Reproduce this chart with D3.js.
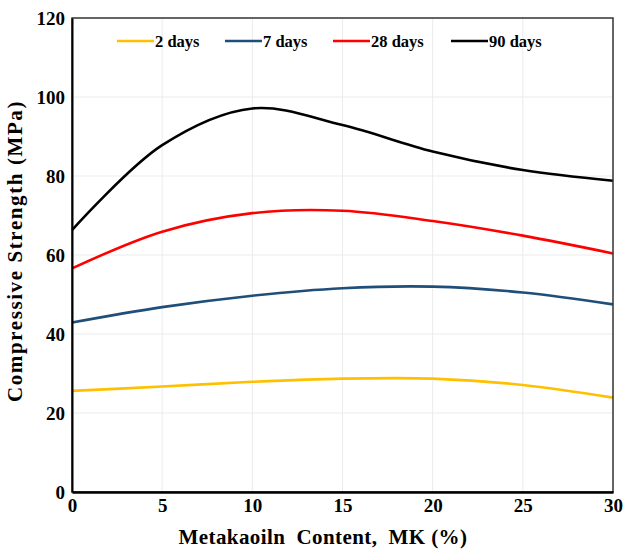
<!DOCTYPE html>
<html>
<head>
<meta charset="utf-8">
<script src="https://cdn.jsdelivr.net/npm/d3@7"></script>
<style>
  body { margin: 0; background: #fff; }
  svg text { font-family: "Liberation Serif", "DejaVu Serif", serif !important; font-weight: bold; fill: #000; }
  .grid line { stroke: #ebebeb; stroke-width: 1px; }
  .series { fill: none; stroke-width: 2.6px; }
</style>
</head>
<body>
<svg id="chart" width="624" height="549"></svg>
<script>
// MK content (%)
const mkContent = [0, 5, 10, 15, 20, 25, 30];
const days2 = [25.6, 26.7, 27.9, 28.7, 28.7, 27.1, 23.9];
const days7 = [42.9, 46.8, 49.7, 51.6, 52.0, 50.5, 47.5];
const days28 = [56.6, 65.9, 70.6, 71.2, 68.6, 64.9, 60.4];
const days90 = [66.3, 87.8, 97.1, 92.9, 86.2, 81.5, 78.8];

const seriesNames = ["2 days", "7 days", "28 days", "90 days"];
const seriesColors = ["#ffc000", "#1f4e79", "#ff0000", "#000000"];
const xTicks = [0, 5, 10, 15, 20, 25, 30];
const yTicks = [0, 20, 40, 60, 80, 100, 120];

const allSeries = [days2, days7, days28, days90];

const margin = {left: 72, right: 11, top: 18, bottom: 57};
const width = 624, height = 549;

const svg = d3.select("#chart");

const x = d3.scaleLinear().domain([0, 30]).range([margin.left, width - margin.right]);
const y = d3.scaleLinear().domain([0, 120]).range([height - margin.bottom, margin.top]);

// gridlines
const grid = svg.append("g").attr("class", "grid");
grid.selectAll(".gx")
  .data(xTicks.slice(1, -1))
  .join("line")
    .attr("x1", d => x(d)).attr("x2", d => x(d))
    .attr("y1", y(0)).attr("y2", y(120));
grid.selectAll(".gy")
  .data(yTicks.slice(1, -1))
  .join("line")
    .attr("x1", x(0)).attr("x2", x(30))
    .attr("y1", d => y(d)).attr("y2", d => y(d));

// lines
const line = d3.line()
  .x(d => x(d[0]))
  .y(d => y(d[1]))
  .curve(d3.curveCatmullRom.alpha(0.5));

svg.append("g")
  .selectAll("path")
  .data(allSeries)
  .join("path")
    .attr("class", "series")
    .attr("stroke", (d, i) => seriesColors[i])
    .attr("d", d => line(d.map((v, i) => [mkContent[i], v])));

// frame
svg.append("rect")
  .attr("x", x(0)).attr("y", y(120))
  .attr("width", x(30) - x(0)).attr("height", y(0) - y(120))
  .attr("fill", "none").attr("stroke", "#333").attr("stroke-width", 1.5);

// axes
const xAxis = d3.axisBottom(x).tickValues(xTicks).tickSize(0).tickPadding(7);
const gx = svg.append("g").attr("transform", `translate(0,${y(0)})`).call(xAxis);
gx.attr("font-family", null);
gx.select(".domain").attr("stroke", "#000").attr("stroke-width", 2.5);
gx.selectAll("text").attr("font-size", 19);

const yAxis = d3.axisLeft(y).tickValues(yTicks).tickSize(0).tickPadding(7);
const gy = svg.append("g").attr("transform", `translate(${x(0)},0)`).call(yAxis);
gy.attr("font-family", null);
gy.select(".domain").attr("stroke", "#000").attr("stroke-width", 2);
gy.selectAll("text").attr("font-size", 19);

// axis titles
svg.append("text")
  .attr("x", 323).attr("y", 544)
  .attr("text-anchor", "middle")
  .attr("font-size", 21)
  .attr("letter-spacing", 0.4)
  .attr("xml:space", "preserve")
  .text("Metakaoiln  Content,  MK (%)");

svg.append("text")
  .attr("transform", "translate(22,251) rotate(-90)")
  .attr("text-anchor", "middle")
  .attr("font-size", 21)
  .attr("letter-spacing", 1.6)
  .text("Compressive Strength (MPa)");

// legend
const legendX = [117, 225, 333, 451];
const legend = svg.append("g");
const items = legend.selectAll("g")
  .data(seriesNames)
  .join("g")
    .attr("transform", (d, i) => `translate(${legendX[i]},41)`);
items.append("line")
  .attr("x1", 0).attr("x2", 37)
  .attr("stroke", (d, i) => seriesColors[i])
  .attr("stroke-width", 2.6);
items.append("text")
  .attr("x", 38).attr("y", 6)
  .attr("font-size", 16.5)
  .text(d => d);
</script>
</body>
</html>
